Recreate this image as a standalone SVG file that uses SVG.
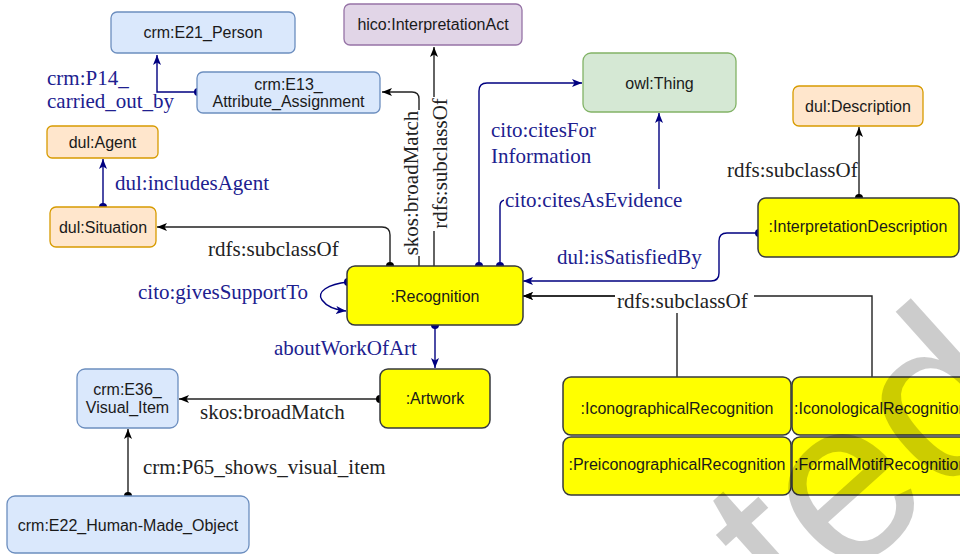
<svg xmlns="http://www.w3.org/2000/svg" width="960" height="554" viewBox="0 0 960 554">
  <style>
    .node text { font-family: "Liberation Sans", Arial, sans-serif; font-size: 16px; fill: #1a1a1a; text-anchor: middle; }
    .blue rect { fill: #dae8fc; stroke: #6c8ebf; stroke-width: 1.3; }
    .orange rect { fill: #ffe6cc; stroke: #d79b00; stroke-width: 1.3; }
    .purple rect { fill: #e1d5e7; stroke: #9673a6; stroke-width: 1.3; }
    .green rect { fill: #d5e8d4; stroke: #82b366; stroke-width: 1.3; }
    .yellow rect { fill: #ffff00; stroke: #36393d; stroke-width: 1.5; }
    .edge { fill: none; stroke-width: 1.4; }
    .nb { stroke: #000080; }
    .bk { stroke: #222; }
    .dotb { fill: #000080; }
    .dotk { fill: #000; }
    .lbl { font-family: "Liberation Serif", "Times New Roman", serif; font-size: 21px; }
    .lb { fill: #20208f; }
    .lk { fill: #222; }
    .bg { fill: #fff; }
  </style>
  <defs>
    <marker id="arrowBlue" viewBox="0 0 10 10" refX="10" refY="5" markerWidth="10" markerHeight="10" markerUnits="userSpaceOnUse" orient="auto">
      <path d="M0,1 L10,5 L0,9 L2.5,5 Z" fill="#000080"/>
    </marker>
    <marker id="arrowBlack" viewBox="0 0 10 10" refX="10" refY="5" markerWidth="10" markerHeight="10" markerUnits="userSpaceOnUse" orient="auto">
      <path d="M0,1 L10,5 L0,9 L2.5,5 Z" fill="#000"/>
    </marker>
  </defs>

  <!-- connectors -->
  <g id="connectors">
    <!-- crm:P14_carried_out_by -->
    <path class="edge nb" d="M198,92 H157 V55" marker-end="url(#arrowBlue)"/>
    <circle class="dotb" cx="198" cy="92" r="4"/>
    <text class="lbl lb" x="47" y="85">crm:P14_</text>
    <text class="lbl lb" x="47" y="108">carried_out_by</text>

    <!-- skos:broadMatch to E13 -->
    <path class="edge bk" d="M419,266 V99 Q419,92 412,92 H382" marker-end="url(#arrowBlack)"/>
    <!-- rdfs:subclassOf to hico -->
    <path class="edge bk" d="M434,266 V47" marker-end="url(#arrowBlack)"/>
    <rect class="bg" x="402" y="110" width="18" height="146"/>
    <text class="lbl lk" text-anchor="middle" transform="translate(418,183) rotate(-90)">skos:broadMatch</text>
    <rect class="bg" x="430" y="97" width="19" height="134"/>
    <text class="lbl lk" text-anchor="middle" transform="translate(447,163.5) rotate(-90)">rdfs:subclassOf</text>

    <!-- rdfs:subclassOf to dul:Situation -->
    <path class="edge bk" d="M390,266 V235 Q390,227 382,227 H157" marker-end="url(#arrowBlack)"/>
    <circle class="dotk" cx="390" cy="266" r="4"/>
    <text class="lbl lk" x="208" y="256">rdfs:subclassOf</text>

    <!-- dul:includesAgent -->
    <path class="edge nb" d="M103,207 V159" marker-end="url(#arrowBlue)"/>
    <circle class="dotb" cx="103" cy="207" r="4"/>
    <text class="lbl lb" x="115" y="190">dul:includesAgent</text>

    <!-- cito:givesSupportTo (self loop) -->
    <path class="edge nb" d="M348,282 C328,284 316,292 322,300 C327,307 336,310 346,311" marker-end="url(#arrowBlue)"/>
    <circle class="dotb" cx="348" cy="282" r="4"/>
    <text class="lbl lb" x="138" y="299">cito:givesSupportTo</text>

    <!-- cito:citesForInformation -->
    <path class="edge nb" d="M479,266 V91 Q479,83 487,83 H582" marker-end="url(#arrowBlue)"/>
    <circle class="dotb" cx="479" cy="266" r="4"/>
    <text class="lbl lb" x="491" y="137">cito:citesFor</text>
    <text class="lbl lb" x="491" y="163">Information</text>

    <!-- cito:citesAsEvidence -->
    <path class="edge nb" d="M500,266 V206 Q500,200 506,200 H659 V113" marker-end="url(#arrowBlue)"/>
    <circle class="dotb" cx="500" cy="266" r="4"/>
    <rect class="bg" x="504" y="189" width="180" height="22"/>
    <text class="lbl lb" x="505" y="207">cito:citesAsEvidence</text>

    <!-- dul:isSatisfiedBy -->
    <path class="edge nb" d="M759,233 H727 Q719,233 719,241 V273 Q719,281 711,281 H523" marker-end="url(#arrowBlue)"/>
    <circle class="dotb" cx="759" cy="233" r="4"/>
    <text class="lbl lb" x="557" y="264">dul:isSatisfiedBy</text>

    <!-- rdfs:subclassOf to dul:Description -->
    <path class="edge bk" d="M859,198 V127" marker-end="url(#arrowBlack)"/>
    <circle class="dotk" cx="859" cy="198" r="4"/>
    <text class="lbl lk" x="727" y="177">rdfs:subclassOf</text>

    <!-- rdfs:subclassOf from the recognition subtypes -->
    <path class="edge bk" d="M677,377 V296 H523" marker-end="url(#arrowBlack)"/>
    <path class="edge bk" d="M872,377 V296 H523" marker-end="url(#arrowBlack)"/>
    <rect class="bg" x="615" y="293" width="139" height="20"/>
    <text class="lbl lk" x="617" y="308">rdfs:subclassOf</text>

    <!-- aboutWorkOfArt -->
    <path class="edge nb" d="M435,325 V368" marker-end="url(#arrowBlue)"/>
    <circle class="dotb" cx="435" cy="325" r="4"/>
    <text class="lbl lb" x="274" y="355">aboutWorkOfArt</text>

    <!-- skos:broadMatch to E36 -->
    <path class="edge bk" d="M380,399 H179" marker-end="url(#arrowBlack)"/>
    <circle class="dotk" cx="380" cy="399" r="4"/>
    <text class="lbl lk" x="200" y="419">skos:broadMatch</text>

    <!-- crm:P65_shows_visual_item -->
    <path class="edge bk" d="M128,496 V429" marker-end="url(#arrowBlack)"/>
    <circle class="dotk" cx="128" cy="496" r="4"/>
    <text class="lbl lk" x="143" y="474">crm:P65_shows_visual_item</text>
  </g>

  <!-- nodes -->
  <g id="e21-person" class="node blue">
    <rect x="111" y="12" width="184" height="41" rx="6"/>
    <text x="203" y="38">crm:E21_Person</text>
  </g>
  <g id="e13-attribute-assignment" class="node blue">
    <rect x="197" y="72" width="183" height="41" rx="6"/>
    <text x="288.5" y="90">crm:E13_</text>
    <text x="288.5" y="107">Attribute_Assignment</text>
  </g>
  <g id="interpretation-act" class="node purple">
    <rect x="344" y="4" width="178" height="41" rx="6"/>
    <text x="433" y="30">hico:InterpretationAct</text>
  </g>
  <g id="owl-thing" class="node green">
    <rect x="583" y="53" width="153" height="59" rx="8"/>
    <text x="659.5" y="88.5">owl:Thing</text>
  </g>
  <g id="dul-description" class="node orange">
    <rect x="793" y="86" width="130" height="40" rx="6"/>
    <text x="858" y="111.5">dul:Description</text>
  </g>
  <g id="dul-agent" class="node orange">
    <rect x="47" y="126" width="111" height="32" rx="5"/>
    <text x="102.5" y="147.5">dul:Agent</text>
  </g>
  <g id="dul-situation" class="node orange">
    <rect x="50" y="207" width="106" height="40" rx="6"/>
    <text x="103" y="232.5">dul:Situation</text>
  </g>
  <g id="interpretation-description" class="node yellow">
    <rect x="758" y="198" width="201" height="59" rx="8"/>
    <text x="858" y="232">:InterpretationDescription</text>
  </g>
  <g id="recognition" class="node yellow">
    <rect x="347" y="266" width="176" height="59" rx="8"/>
    <text x="435" y="302">:Recognition</text>
  </g>
  <g id="artwork" class="node yellow">
    <rect x="380" y="369" width="110" height="59" rx="8"/>
    <text x="435" y="404">:Artwork</text>
  </g>
  <g id="e36-visual-item" class="node blue">
    <rect x="77" y="369" width="101" height="59" rx="8"/>
    <text x="127.5" y="395">crm:E36_</text>
    <text x="127.5" y="413">Visual_Item</text>
  </g>
  <g id="e22-human-made-object" class="node blue">
    <rect x="7" y="496" width="242" height="57" rx="8"/>
    <text x="128" y="531">crm:E22_Human-Made_Object</text>
  </g>
  <g id="iconographical-recognition" class="node yellow">
    <rect x="563" y="377" width="228" height="58" rx="8"/>
    <text x="677" y="413.5">:IconographicalRecognition</text>
  </g>
  <g id="iconological-recognition" class="node yellow">
    <rect x="792" y="377" width="230" height="58" rx="8"/>
    <text x="794" y="413.5" style="text-anchor:start">:IconologicalRecognition</text>
  </g>
  <g id="preiconographical-recognition" class="node yellow">
    <rect x="563" y="437" width="228" height="58" rx="8"/>
    <text x="677" y="469.5">:PreiconographicalRecognition</text>
  </g>
  <g id="formal-motif-recognition" class="node yellow">
    <rect x="792" y="437" width="230" height="58" rx="8"/>
    <text x="794" y="469.5" style="text-anchor:start">:FormalMotifRecognition</text>
  </g>

  <!-- watermark -->
  <text x="316" y="1060" transform="rotate(-42 316 1060)" font-family="'Liberation Sans', Arial, sans-serif" font-size="232" fill="#000" fill-opacity="0.2">Accepted</text>
</svg>
